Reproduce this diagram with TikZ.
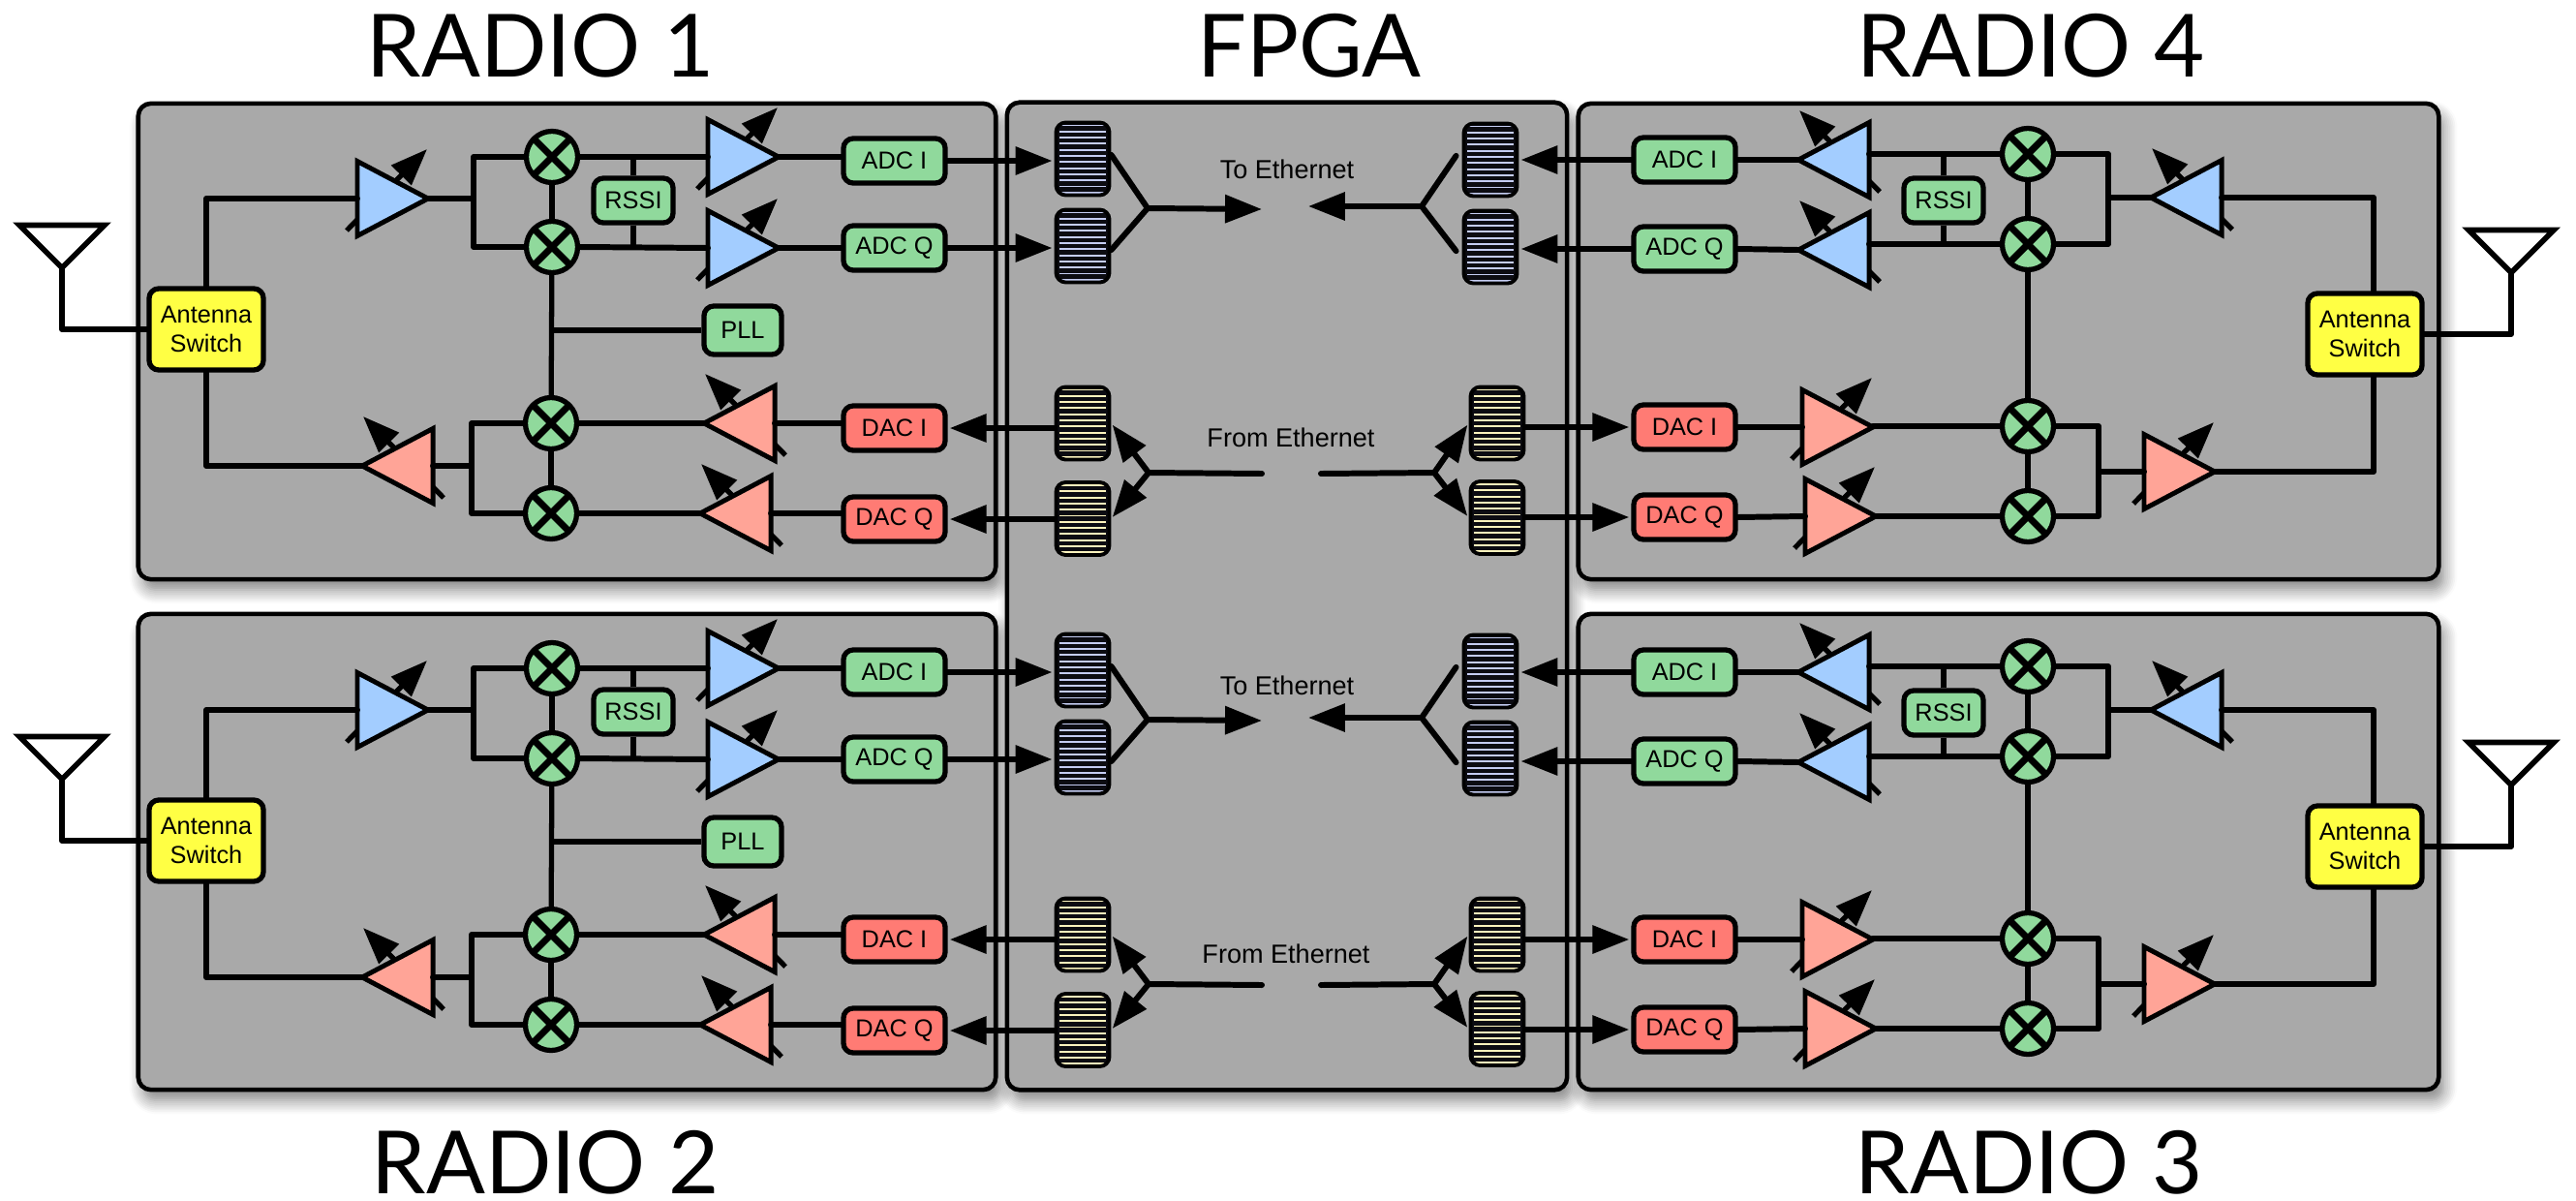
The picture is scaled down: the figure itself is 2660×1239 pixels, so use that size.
\documentclass[tikz,border=0pt]{standalone}
\usepackage{fontspec}
\setmainfont{Liberation Sans}
\newfontfamily\titlefont{Lato}
\usetikzlibrary{positioning,arrows.meta,calc,shapes.geometric,shadows.blur}
\definecolor{panelgrey}{HTML}{A9A9A9}
\definecolor{rxblue}{HTML}{A3CDFF}
\definecolor{txpink}{HTML}{FFA497}
\definecolor{blockgreen}{HTML}{90D99C}
\definecolor{dacred}{HTML}{FF7B74}
\definecolor{switchyellow}{HTML}{FFFF44}
\definecolor{fifodark}{HTML}{0C0C12}
\definecolor{stripeblue}{HTML}{C4CCF2}
\definecolor{stripeyellow}{HTML}{FAF2BC}
\tikzset{
  panel/.style={rounded corners=.13cm, draw=black, line width=1.3pt, fill=panelgrey, blur shadow={shadow xshift=.05cm, shadow yshift=-.11cm, shadow blur radius=.14cm, shadow blur steps=8, shadow opacity=50}},
  wire/.style={draw=black, line width=1.7pt, line cap=round, line join=round},
  thinwire/.style={draw=black, line width=1.5pt},
  sigarr/.style={wire, -{Triangle[length=10.8pt,width=8pt]}, shorten >=.02cm},
  gainarr/.style={draw=black, line width=1.5pt, -{Triangle[length=10.8pt,width=8pt]}},
  labelbox/.style={rounded corners=.1cm, draw=black, line width=1.5pt, align=center, inner sep=0pt, font=\fontsize{7.2}{8.6}\selectfont},
  adcbox/.style={labelbox, fill=blockgreen, minimum width=1.05cm, minimum height=.46cm},
  dacbox/.style={labelbox, fill=dacred, minimum width=1.05cm, minimum height=.46cm},
  rssibox/.style={labelbox, fill=blockgreen, minimum width=.82cm, minimum height=.46cm},
  pllbox/.style={labelbox, fill=blockgreen, minimum width=.80cm, minimum height=.50cm},
  switchbox/.style={labelbox, fill=switchyellow, minimum width=1.18cm, minimum height=.84cm},
  amp/.style={isosceles triangle, isosceles triangle stretches, draw=black, line width=1.4pt, inner sep=0pt, outer sep=0pt, minimum width=.77cm, minimum height=.73cm},
  mixer/.style={circle, draw=black, line width=1.5pt, fill=blockgreen, inner sep=0pt, minimum size=.53cm, path picture={
    \draw[line width=2pt] (path picture bounding box.north west) -- (path picture bounding box.south east);
    \draw[line width=2pt] (path picture bounding box.north east) -- (path picture bounding box.south west);}},
  antenna/.style={isosceles triangle, isosceles triangle stretches, shape border rotate=-90, draw=black, line width=1.6pt, inner sep=0pt, outer sep=0pt, minimum width=.88cm, minimum height=.44cm},
  fifo/.style={rounded corners=.1cm, draw=black, line width=1.1pt, fill=fifodark, inner sep=0pt, minimum width=.55cm, minimum height=.75cm, path picture={
    \foreach \k in {0,...,11}{
      \draw[#1, line width=.55pt] ($(path picture bounding box.north west)+(.035cm,-.03cm-.063cm*\k)$) -- ++(.48cm,0);}}},
  title/.style={inner sep=0pt, font=\titlefont\fontsize{25.6}{28}\selectfont},
  fpgatext/.style={font=\fontsize{7.7}{9}\selectfont}
}
\newcommand{\gainamp}[5]{
  \coordinate (#1tail) at ({#2-(#5)*84},{#3+33});
  \coordinate (#1tip) at ({#2-(#5)*1},{#3-51});
  \draw[gainarr] (#1tail) -- (#1tip);
  \node[amp, fill=#4, anchor=apex, shape border rotate={90-(#5)*90}] (#1) at (#2,#3) {};
}
\begin{document}
\begin{tikzpicture}[x=.01cm,y=-.01cm]
\useasboundingbox (0,0) rectangle (2660,1239);

% panels
\node[panel, minimum width=8.85cm, minimum height=4.91cm] (radioa) at (585.5,352.5) {};
\node[panel, minimum width=8.85cm, minimum height=4.91cm] (radiob) at (585.5,879.5) {};
\node[panel, minimum width=5.78cm, minimum height=10.19cm] (fpga) at (1329,615.5) {};
\node[panel, minimum width=8.88cm, minimum height=4.91cm] (radiod) at (2074,352.5) {};
\node[panel, minimum width=8.88cm, minimum height=4.91cm] (radioc) at (2074,879.5) {};

% titles
\node[title] (ta) at (558,47) {RADIO 1};
\node[title] (tf) at (1352,47) {FPGA};
\node[title] (td) at (2097,47) {RADIO 4};
\node[title] (tb) at (563,1200) {RADIO 2};
\node[title] (tc) at (2095,1200) {RADIO 3};

% radios 1 and 2
\foreach \dy/\s in {0/ra,528/rb}{
  \node[antenna, anchor=apex] (\s-ant) at (64,276.5+\dy) {};
  \node[switchbox] (\s-sw) at (213,340+\dy) {Antenna\\Switch};
  \gainamp{\s-lna}{442}{205+\dy}{rxblue}{1}
  \gainamp{\s-pa}{374}{481+\dy}{txpink}{-1}
  \gainamp{\s-ampi}{804}{162+\dy}{rxblue}{1}
  \gainamp{\s-ampq}{804}{256+\dy}{rxblue}{1}
  \gainamp{\s-dampi}{727}{437+\dy}{txpink}{-1}
  \gainamp{\s-dampq}{723}{530+\dy}{txpink}{-1}
  \node[mixer] (\s-mixa) at (570,162+\dy) {};
  \node[mixer] (\s-mixb) at (570,255+\dy) {};
  \node[mixer] (\s-mixc) at (569,437+\dy) {};
  \node[mixer] (\s-mixd) at (569,530+\dy) {};
  \node[rssibox] (\s-rssi) at (654,207+\dy) {RSSI};
  \node[pllbox] (\s-pll) at (767,341+\dy) {PLL};
  \node[adcbox] (\s-adci) at (923.5,166+\dy) {ADC I};
  \node[adcbox] (\s-adcq) at (923.5,256+\dy) {ADC Q};
  \node[dacbox] (\s-daci) at (923.5,442+\dy) {DAC I};
  \node[dacbox] (\s-dacq) at (923.5,536+\dy) {DAC Q};
  \coordinate (\s-rxtap) at (489,205+\dy);
  \coordinate (\s-txtap) at (487,481+\dy);
  \draw[wire] (\s-ant.apex) |- (\s-sw.west);
  \draw[wire] (\s-sw.north) |- (\s-lna.west);
  \draw[wire] (\s-sw.south) |- (\s-pa.apex);
  \draw[wire] (\s-lna.apex) -- (\s-rxtap);
  \draw[wire] (\s-mixa.west) -| (\s-rxtap) |- (\s-mixb.west);
  \draw[wire] (\s-pa.east) -- (\s-txtap);
  \draw[wire] (\s-mixc.west) -| (\s-txtap) |- (\s-mixd.west);
  \draw[wire] (\s-mixa.east) -- (\s-ampi.west);
  \draw[wire] (\s-mixb.east) -- (\s-ampq.west);
  \draw[wire] (\s-mixc.east) -- (\s-dampi.apex);
  \draw[wire] (\s-mixd.east) -- (\s-dampq.apex);
  \draw[wire] (\s-ampi.apex) -- (\s-adci.west |- \s-ampi.apex);
  \draw[wire] (\s-ampq.apex) -- (\s-adcq.west);
  \draw[wire] (\s-dampi.east) -- (\s-daci.west |- \s-dampi.east);
  \draw[wire] (\s-dampq.east) -- (\s-dacq.west |- \s-dampq.east);
  \draw[thinwire] (\s-mixa) -- (\s-mixb);
  \draw[thinwire] (\s-mixb) -- (\s-mixc);
  \draw[thinwire] (\s-mixc) -- (\s-mixd);
  \draw[thinwire] (\s-mixb |- \s-pll) -- (\s-pll.west);
  \draw[thinwire] (\s-rssi.north) -- (\s-rssi.north |- \s-mixa);
  \draw[thinwire] (\s-rssi.south) -- (\s-rssi.south |- \s-mixb);
}

% radios 4 and 3
\foreach \dy/\s in {0/rd,529/rc}{
  \node[antenna, anchor=apex] (\s-ant) at (2593,281.5+\dy) {};
  \node[switchbox] (\s-sw) at (2442,345+\dy) {Antenna\\Switch};
  \gainamp{\s-lna}{2221}{204+\dy}{rxblue}{-1}
  \gainamp{\s-pa}{2287}{487+\dy}{txpink}{1}
  \gainamp{\s-ampi}{1857}{165+\dy}{rxblue}{-1}
  \gainamp{\s-ampq}{1857}{258+\dy}{rxblue}{-1}
  \gainamp{\s-dampi}{1934}{441+\dy}{txpink}{1}
  \gainamp{\s-dampq}{1937}{533+\dy}{txpink}{1}
  \node[mixer] (\s-mixa) at (2094,159+\dy) {};
  \node[mixer] (\s-mixb) at (2094,252+\dy) {};
  \node[mixer] (\s-mixc) at (2094,440+\dy) {};
  \node[mixer] (\s-mixd) at (2094,533+\dy) {};
  \node[rssibox] (\s-rssi) at (2007,207+\dy) {RSSI};
  \node[adcbox] (\s-adci) at (1739.5,165+\dy) {ADC I};
  \node[adcbox] (\s-adcq) at (1739.5,257+\dy) {ADC Q};
  \node[dacbox] (\s-daci) at (1739.5,441+\dy) {DAC I};
  \node[dacbox] (\s-dacq) at (1739.5,534+\dy) {DAC Q};
  \coordinate (\s-rxtap) at (2177,204+\dy);
  \coordinate (\s-txtap) at (2167,487+\dy);
  \coordinate (\s-rxline) at (2451,204+\dy);
  \coordinate (\s-txline) at (2451,487+\dy);
  \draw[wire] (\s-ant.apex) |- (\s-sw.east);
  \draw[wire] (\s-lna.east) -- (\s-rxline) -- (\s-rxline |- \s-sw.north);
  \draw[wire] (\s-pa.apex) -- (\s-txline) -- (\s-txline |- \s-sw.south);
  \draw[wire] (\s-lna.apex) -- (\s-rxtap);
  \draw[wire] (\s-mixa.east) -| (\s-rxtap) |- (\s-mixb.east);
  \draw[wire] (\s-pa.west) -- (\s-txtap);
  \draw[wire] (\s-mixc.east) -| (\s-txtap) |- (\s-mixd.east);
  \draw[wire] (\s-mixa.west) -- (\s-mixa.west -| \s-ampi.east);
  \draw[wire] (\s-mixb.west) -- (\s-mixb.west -| \s-ampq.east);
  \draw[wire] (\s-mixc.west) -- (\s-mixc.west -| \s-dampi.apex);
  \draw[wire] (\s-mixd.west) -- (\s-dampq.apex);
  \draw[wire] (\s-ampi.apex) -- (\s-adci.east);
  \draw[wire] (\s-ampq.apex) -- (\s-adcq.east);
  \draw[wire] (\s-dampi.west) -- (\s-daci.east);
  \draw[wire] (\s-dampq.west) -- (\s-dacq.east);
  \draw[thinwire] (\s-mixa) -- (\s-mixb);
  \draw[thinwire] (\s-mixb) -- (\s-mixc);
  \draw[thinwire] (\s-mixc) -- (\s-mixd);
  \draw[thinwire] (\s-rssi.north) -- (\s-rssi.north |- \s-mixa);
  \draw[thinwire] (\s-rssi.south) -- (\s-rssi.south |- \s-mixb);
}

% fpga
\foreach \dy/\s/\l/\r/\tx/\ty/\fx/\fy in {0/u/ra/rd/1329/175/1333/452,528/v/rb/rc/1329/708/1328/985}{
  \node[fifo=stripeblue] (\s-fa) at (1118,164+\dy) {};
  \node[fifo=stripeblue] (\s-fb) at (1118,254+\dy) {};
  \node[fifo=stripeblue] (\s-fe) at (1539,165+\dy) {};
  \node[fifo=stripeblue] (\s-ff) at (1539,255+\dy) {};
  \node[fifo=stripeyellow] (\s-fc) at (1118,437+\dy) {};
  \node[fifo=stripeyellow] (\s-fd) at (1118,535.5+\dy) {};
  \node[fifo=stripeyellow] (\s-fg) at (1546,437+\dy) {};
  \node[fifo=stripeyellow] (\s-fh) at (1546,534.5+\dy) {};
  \node[fpgatext] (\s-toeth) at (\tx,\ty) {To Ethernet};
  \node[fpgatext] (\s-frometh) at (\fx,\fy) {From Ethernet};
  \coordinate (\s-ja) at (1185,215+\dy);
  \coordinate (\s-jb) at (1468,213+\dy);
  \coordinate (\s-jc) at (1186,488+\dy);
  \coordinate (\s-jd) at (1481,488+\dy);
  \coordinate (\s-ea) at (1305,216+\dy);
  \coordinate (\s-eb) at (1349,213+\dy);
  \coordinate (\s-ec) at (1303,489+\dy);
  \coordinate (\s-ed) at (1364,489+\dy);
  \draw[wire] (\s-fa.8) -- (\s-ja);
  \draw[wire] (\s-fb.-8) -- (\s-ja);
  \draw[sigarr] (\s-ja) -- (\s-ea);
  \draw[wire] (\s-fe.172) ++(-6,0) -- (\s-jb);
  \draw[wire] (\s-ff.188) ++(-6,0) -- (\s-jb);
  \draw[sigarr] (\s-jb) -- (\s-eb);
  \draw[wire] (\s-ec) -- (\s-jc);
  \draw[sigarr] (\s-jc) -- (\s-fc.east);
  \draw[sigarr] (\s-jc) -- (\s-fd.east);
  \draw[wire] (\s-ed) -- (\s-jd);
  \draw[sigarr] (\s-jd) -- (\s-fg.west);
  \draw[sigarr] (\s-jd) -- (\s-fh.west);
  \draw[sigarr] (\l-adci.east) -- (\l-adci.east -| \s-fa.west);
  \draw[sigarr] (\l-adcq.east) -- (\l-adcq.east -| \s-fb.west);
  \draw[sigarr] (\s-fc.west |- \l-daci.east) -- (\l-daci.east);
  \draw[sigarr] (\s-fd.west |- \l-dacq.east) -- (\l-dacq.east);
  \draw[sigarr] (\r-adci.west) -- (\r-adci.west -| \s-fe.east);
  \draw[sigarr] (\r-adcq.west) -- (\r-adcq.west -| \s-ff.east);
  \draw[sigarr] (\s-fg.east |- \r-daci.west) -- (\r-daci.west);
  \draw[sigarr] (\s-fh.east |- \r-dacq.west) -- (\r-dacq.west);
}
\end{tikzpicture}
\end{document}
